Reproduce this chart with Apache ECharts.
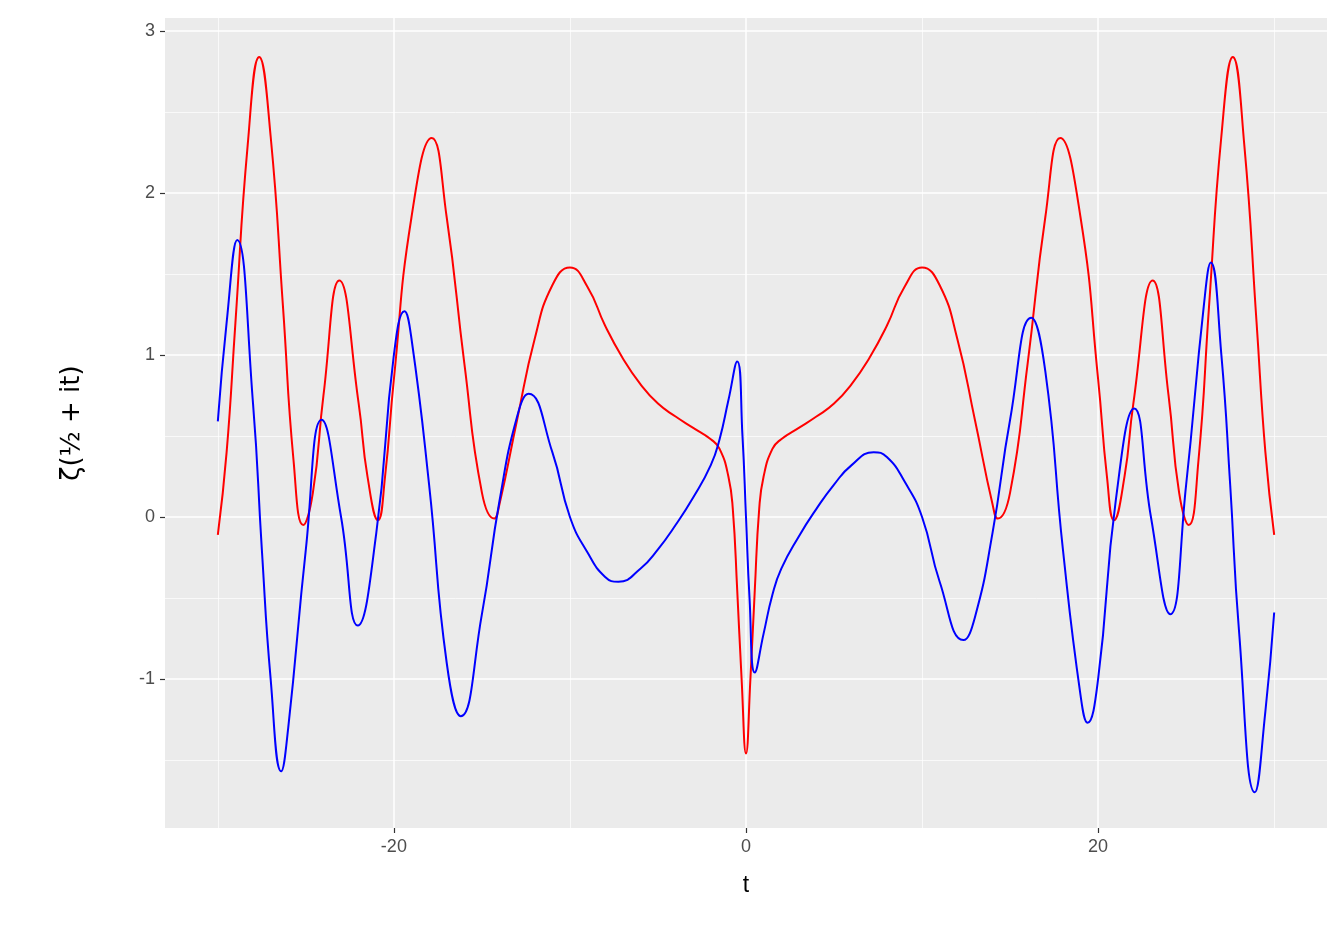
<!DOCTYPE html>
<html><head><meta charset="utf-8">
<script src="https://cdn.jsdelivr.net/npm/echarts@6/dist/echarts.min.js"></script>
<style>html,body{margin:0;background:#fff}#c{width:1344px;height:940px}</style>
</head><body><div id="c"></div>
<script>
const redT = [-30,-29.5,-29,-28.3,-27.65,-27,-26.3,-25.7,-25.15,-24.6,-24,-23.1,-22,-21.5,-20.9,-20.5,-20,-19,-17.85,-17,-16,-15,-14.3,-14,-13,-12,-11,-10,-9,-8,-7,-6,-5,-4,-3,-2,-1.5,-1,-0.75,-0.5,-0.25,
  0,0.25,0.5,0.75,1,1.5,2,3,4,5,6,7,8,9,10,11,12,13,14,14.3,15,16,17,17.85,19,20,20.5,20.9,21.5,22,23.1,24,24.6,25.15,25.7,26.3,27,27.65,28.3,29,29.5,30];
const redV = [-0.11,0.4,1.2,2.3,2.84,2.35,1.3,0.35,-0.05,0.15,0.75,1.46,0.7,0.25,-0.02,0.25,0.85,1.85,2.34,1.85,0.95,0.15,-0.01,0.08,0.6,1.1,1.43,1.54,1.42,1.18,0.98,0.82,0.7,0.62,0.55,0.48,0.42,0.25,0.05,-0.45,-1.0,
  -1.46,-1.0,-0.45,0.05,0.25,0.42,0.48,0.55,0.62,0.7,0.82,0.98,1.18,1.42,1.54,1.43,1.1,0.6,0.08,-0.01,0.15,0.95,1.85,2.34,1.85,0.85,0.25,-0.02,0.25,0.7,1.46,0.75,0.15,-0.05,0.35,1.3,2.35,2.84,2.3,1.2,0.4,-0.11];
// imaginary part (blue)
const blueT = [-30,-29.5,-28.9,-28,-27.5,-27,-26.4,-26,-25,-24.1,-23,-22.05,-21,-20,-19.4,-19,-18,-17,-16.2,-15,-14,-13,-12.35,-11,-10,-9,-8,-7.25,-6,-5,-4,-3,-2,-1.5,-1,-0.5,-0.2,
  0,0.2,0.5,1,1.5,2,3,4,5,6,7.25,8,9,10,11,12.35,13,14,15,16.2,17,18,19,19.4,20,21,22.05,23,24.1,25,26,26.4,27,27.5,28,28.9,29.5,30];
const blueV = [0.59,1.2,1.71,0.7,-0.2,-1.0,-1.57,-1.3,-0.2,0.6,0.0,-0.67,-0.1,1.0,1.27,1.1,0.2,-0.9,-1.23,-0.6,0.1,0.62,0.76,0.4,0.0,-0.22,-0.37,-0.4,-0.32,-0.2,-0.05,0.12,0.32,0.48,0.72,0.96,0.5,
  0,-0.5,-0.96,-0.72,-0.48,-0.32,-0.12,0.05,0.2,0.32,0.4,0.37,0.22,0.0,-0.4,-0.76,-0.62,-0.1,0.6,1.23,0.9,-0.2,-1.1,-1.27,-1.0,0.1,0.67,0.0,-0.6,0.2,1.3,1.57,1.0,0.2,-0.7,-1.7,-1.2,-0.59];
const xMajor = [-20,0,20], xMinor = [-30,-10,10,30];
const yMajor = [-1,0,1,2,3], yMinor = [-1.5,-0.5,0.5,1.5,2.5];

const vline = (v,w)=>({xAxis:v,lineStyle:{width:w}});
const hline = (v,w)=>({yAxis:v,lineStyle:{width:w}});
const chart = echarts.init(document.getElementById('c'));
chart.setOption({
  animation:false,
  grid:{left:165,right:17,top:18,bottom:112,backgroundColor:'#ebebeb',show:true,borderWidth:0},
  xAxis:{type:'value',min:-33,max:33,splitLine:{show:false},
    axisLine:{show:false,onZero:false},
    axisTick:{show:true,customValues:xMajor,length:5,lineStyle:{color:'#333',width:1.2}},
    axisLabel:{customValues:xMajor,color:'#4d4d4d',fontSize:18,fontFamily:'Liberation Sans',margin:10},
    name:'t',nameLocation:'middle',nameGap:46,nameTextStyle:{fontSize:23,color:'#000',fontFamily:'Liberation Sans'}},
  yAxis:{type:'value',min:-1.92,max:3.08,splitLine:{show:false},
    axisLine:{show:false,onZero:false},
    axisTick:{show:true,customValues:yMajor,length:5,lineStyle:{color:'#333',width:1.2}},
    axisLabel:{customValues:yMajor,color:'#4d4d4d',fontSize:18,fontFamily:'Liberation Sans',margin:10},
    name:'ζ(½ + it)',nameLocation:'middle',nameGap:80,nameRotate:90,
    nameTextStyle:{fontSize:26,color:'#000',fontFamily:'DejaVu Sans'}},
  series:[
    {type:'line',data:[],silent:true,z:1,markLine:{silent:true,symbol:'none',label:{show:false},
      lineStyle:{color:'#fff',type:'solid'},
      data:[...xMinor.map(v=>vline(v,0.7)),...xMajor.map(v=>vline(v,1.5)),
            ...yMinor.map(v=>hline(v,0.7)),...yMajor.map(v=>hline(v,1.5))]}},
    {type:'line',z:5,data:redT.map((t,i)=>[t,redV[i]]),smooth:0.5,showSymbol:false,lineStyle:{color:'#ff0000',width:2}},
    {type:'line',z:6,data:blueT.map((t,i)=>[t,blueV[i]]),smooth:0.5,showSymbol:false,lineStyle:{color:'#0000ff',width:2}}
  ]
});
</script></body></html>
